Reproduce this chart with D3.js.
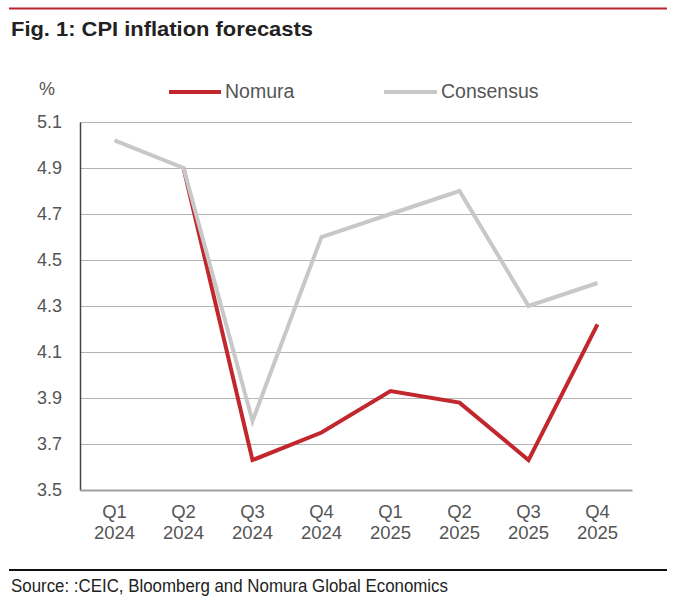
<!DOCTYPE html>
<html>
<head>
<meta charset="utf-8">
<script src="https://cdn.jsdelivr.net/npm/d3@7"></script>
<style>
  html, body { margin: 0; padding: 0; background: #fff; }
  svg { display: block; }
  text { font-family: "Liberation Sans", Arial, sans-serif; }
</style>
</head>
<body>
<svg id="chart" width="678" height="613"></svg>
<script>
const categories = ["Q1\n2024", "Q2\n2024", "Q3\n2024", "Q4\n2024", "Q1\n2025", "Q2\n2025", "Q3\n2025", "Q4\n2025"];
const nomura = [null, 4.90, 3.63, 3.75, 3.93, 3.88, 3.63, 4.22];
const consensus = [5.02, 4.90, 3.80, 4.60, 4.70, 4.80, 4.30, 4.40];
const yTicks = [3.5, 3.7, 3.9, 4.1, 4.3, 4.5, 4.7, 4.9, 5.1];
const seriesNames = ["Nomura", "Consensus"];
const seriesColors = ["#c1272d", "#c8c8c8"];

const svg = d3.select("#chart");
const margin = { left: 80, right: 46, top: 122, bottom: 123 };
const W = 678, H = 613;
const x = d3.scaleBand().domain(categories).range([margin.left, W - margin.right]);
const y = d3.scaleLinear().domain([3.5, 5.1]).range([H - margin.bottom, margin.top]);

// top rule
svg.append("line").attr("x1", 9).attr("x2", 667).attr("y1", 8.5).attr("y2", 8.5)
  .attr("stroke", "#b8232f").attr("stroke-width", 2);

// title
svg.append("text").attr("x", 11).attr("y", 35.5)
  .attr("font-size", 21).attr("font-weight", "bold").attr("fill", "#222")
  .attr("textLength", 302).attr("lengthAdjust", "spacingAndGlyphs")
  .text("Fig. 1: CPI inflation forecasts");

// gridlines
const grid = svg.append("g");
grid.selectAll("line").data(yTicks.slice(1)).join("line")
  .attr("x1", margin.left).attr("x2", W - margin.right)
  .attr("y1", d => Math.round(y(d)) + 0.5).attr("y2", d => Math.round(y(d)) + 0.5)
  .attr("stroke", "#b4b4b4").attr("stroke-width", 1);

// y axis
const yAxis = svg.append("g").attr("transform", `translate(${margin.left},0)`)
  .call(d3.axisLeft(y).tickValues(yTicks).tickFormat(d3.format(".1f")).tickSize(0).tickPadding(18));
yAxis.select(".domain").attr("stroke", "#444").attr("stroke-width", 1.5);
yAxis.selectAll("text").attr("font-size", 18).attr("fill", "#555")
  .attr("font-family", "'Liberation Sans', Arial, sans-serif");

// bottom axis
const xAxis = svg.append("g").attr("transform", `translate(0,${y(3.5)})`)
  .call(d3.axisBottom(x).tickSize(0).tickFormat(""));
xAxis.select(".domain").attr("stroke", "#a0a0a0").attr("stroke-width", 2);
xAxis.selectAll(".tick").each(function(d) {
  const parts = d.split("\n");
  const t = d3.select(this).append("text").attr("fill", "#555").attr("font-size", 18.5)
    .attr("text-anchor", "middle").attr("font-family", "'Liberation Sans', Arial, sans-serif");
  t.append("tspan").attr("x", 0).attr("y", 28).text(parts[0]);
  t.append("tspan").attr("x", 0).attr("y", 49).text(parts[1]);
});

// lines
const line = d3.line()
  .defined(d => d.v != null)
  .x(d => x(d.c) + x.bandwidth() / 2)
  .y(d => y(d.v));
const seriesData = [nomura, consensus].map(arr => arr.map((v, i) => ({ c: categories[i], v })));
svg.append("path").datum(seriesData[0]).attr("d", line)
  .attr("fill", "none").attr("stroke", seriesColors[0]).attr("stroke-width", 4).attr("stroke-linejoin", "miter");
svg.append("path").datum(seriesData[1]).attr("d", line)
  .attr("fill", "none").attr("stroke", seriesColors[1]).attr("stroke-width", 4).attr("stroke-linejoin", "miter");

// unit label
svg.append("text").attr("x", 39).attr("y", 95).attr("font-size", 18).attr("fill", "#555").text("%");

// legend
const legendPos = [{ x1: 169, x2: 221, tx: 225 }, { x1: 384, x2: 437, tx: 441 }];
seriesNames.forEach((name, i) => {
  const p = legendPos[i];
  svg.append("line").attr("x1", p.x1).attr("x2", p.x2).attr("y1", 92).attr("y2", 92)
    .attr("stroke", seriesColors[i]).attr("stroke-width", 4);
  svg.append("text").attr("x", p.tx).attr("y", 98).attr("font-size", 19.5).attr("fill", "#555").text(name);
});

// bottom rule + source
svg.append("line").attr("x1", 9).attr("x2", 667).attr("y1", 570).attr("y2", 570)
  .attr("stroke", "#111").attr("stroke-width", 2);
svg.append("text").attr("x", 11).attr("y", 592)
  .attr("font-size", 17.5).attr("fill", "#222")
  .attr("textLength", 437).attr("lengthAdjust", "spacingAndGlyphs")
  .text("Source: :CEIC, Bloomberg and Nomura Global Economics");
</script>
</body>
</html>
